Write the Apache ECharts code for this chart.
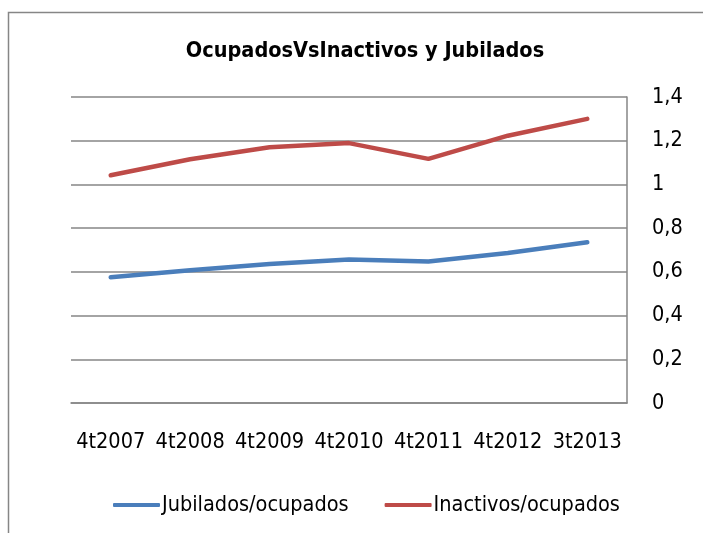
<!DOCTYPE html>
<html>
<head>
<meta charset="utf-8">
<script src="https://cdn.jsdelivr.net/npm/echarts@6/dist/echarts.min.js"></script>
<style>
  html, body { margin: 0; padding: 0; background: #fff; }
  #chart { width: 703px; height: 533px; }
</style>
</head>
<body>
<div id="chart"></div>
<script>
// datos
const periodos = ['4t2007', '4t2008', '4t2009', '4t2010', '4t2011', '4t2012', '3t2013'];
const jubilados = [0.575, 0.607, 0.636, 0.657, 0.647, 0.686, 0.735];
const inactivos = [1.042, 1.115, 1.170, 1.189, 1.117, 1.223, 1.300];
const seriesNames = ['Jubilados/ocupados', 'Inactivos/ocupados'];

const FONT = '"Liberation Sans Narrow", "DejaVu Sans Condensed", "Liberation Sans", sans-serif';

let chart = echarts.init(document.getElementById('chart'));
chart.setOption({
  animation: false,
  backgroundColor: '#fff',
  textStyle: {fontFamily: FONT},
  title: {
    text: 'OcupadosVsInactivos y Jubilados',
    left: 360,
    textAlign: 'center',
    top: 35,
    textStyle: {fontFamily: FONT, fontSize: 21.5, fontWeight: 'bold', color: '#000'}
  },
  graphic: [{
    type: 'rect',
    shape: {x: 8.5, y: 12.5, width: 760, height: 600},
    style: {fill: 'none', stroke: '#868686', lineWidth: 1.5},
    silent: true
  }],
  legend: {
    bottom: 12,
    left: 108,
    itemGap: 36,
    itemWidth: 47,
    itemHeight: 4,
    icon: 'roundRect',
    data: seriesNames,
    textStyle: {fontFamily: FONT, fontSize: 21.5, color: '#000', padding: [0, 0, 0, -3]}
  },
  grid: {left: 71, right: 76, top: 97, bottom: 130},
  xAxis: {
    type: 'category',
    data: periodos,
    boundaryGap: true,
    axisLine: {show: true, lineStyle: {color: '#868686', width: 1.5}},
    axisTick: {show: false},
    axisLabel: {fontFamily: FONT, fontSize: 21.5, color: '#000', margin: 28, interval: 0}
  },
  yAxis: {
    type: 'value',
    position: 'right',
    min: 0,
    max: 1.4,
    interval: 0.2,
    axisLine: {show: true, lineStyle: {color: '#868686', width: 1.5}},
    axisTick: {show: false},
    splitLine: {lineStyle: {color: '#868686', width: 1.5}},
    axisLabel: {
      fontFamily: FONT, fontSize: 21.5, color: '#000', margin: 25,
      formatter: (v) => String(Math.round(v * 10) / 10).replace('.', ',')
    }
  },
  series: [
    {
      name: seriesNames[0],
      type: 'line',
      data: jubilados,
      symbol: 'none',
      lineStyle: {color: '#4a7ebb', width: 4.5, cap: 'round', join: 'round'},
      itemStyle: {color: '#4a7ebb'}
    },
    {
      name: seriesNames[1],
      type: 'line',
      data: inactivos,
      symbol: 'none',
      lineStyle: {color: '#be4b48', width: 4.5, cap: 'round', join: 'round'},
      itemStyle: {color: '#be4b48'}
    }
  ]
});
</script>
</body>
</html>
